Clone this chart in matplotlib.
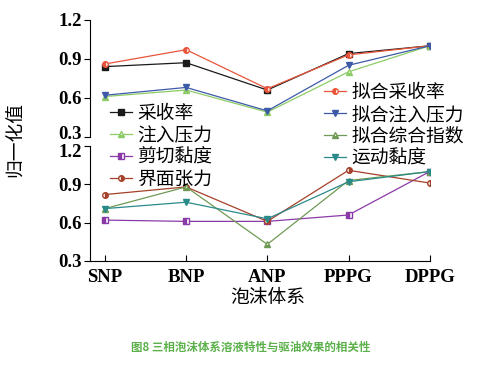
import matplotlib
matplotlib.use("Agg")
import matplotlib.pyplot as plt
import matplotlib.transforms as mtransforms

plt.rcParams['font.family'] = ['Noto Sans CJK SC', 'DejaVu Sans']

# 数据
systems = ["SNP", "BNP", "ANP", "PPPG", "DPPG"]

caishoulv = [0.84, 0.87, 0.66, 0.94, 1.00]          # 采收率
nihe_caishoulv = [0.86, 0.97, 0.67, 0.93, 1.00]     # 拟合采收率
zhuru_yali = [0.61, 0.66, 0.49, 0.80, 1.00]         # 注入压力
nihe_zhuru_yali = [0.62, 0.68, 0.50, 0.85, 1.00]    # 拟合注入压力

jianqie_niandu = [0.62, 0.61, 0.61, 0.66, 1.00]     # 剪切黏度
jiemian_zhangli = [0.82, 0.88, 0.61, 1.01, 0.91]    # 界面张力
nihe_zonghe = [0.71, 0.88, 0.43, 0.93, 1.00]        # 拟合综合指数
yundong_niandu = [0.71, 0.76, 0.63, 0.92, 1.00]     # 运动黏度

yticks = [0.3, 0.6, 0.9, 1.2]

serif = {'family': 'Liberation Serif', 'weight': 'bold', 'size': 13.5}

fig = plt.figure(figsize=(5.02, 3.66), dpi=100)
ax1 = fig.add_axes([0.179, 0.626, 0.677, 0.320])
ax2 = fig.add_axes([0.179, 0.287, 0.677, 0.314])

x = list(range(len(systems)))
ms = 4
lw = 0.9

l1, = ax1.plot(x, caishoulv, color='#1a1a1a', marker='s', ms=ms, lw=lw, label='采收率')
l2, = ax1.plot(x, nihe_caishoulv, color='#e8553a', marker='o', ms=ms, lw=lw,
               fillstyle='left', markerfacecoloralt='white', label='拟合采收率')
l3, = ax1.plot(x, zhuru_yali, color='#8ccc66', marker='^', ms=ms, lw=lw,
               fillstyle='bottom', markerfacecoloralt='white', label='注入压力')
l4, = ax1.plot(x, nihe_zhuru_yali, color='#3d5aa8', marker='v', ms=ms, lw=lw, label='拟合注入压力')

l5, = ax2.plot(x, jianqie_niandu, color='#8a3aa6', marker='s', ms=ms, lw=lw,
               fillstyle='left', markerfacecoloralt='white', label='剪切黏度')
l6, = ax2.plot(x, jiemian_zhangli, color='#a5402a', marker='o', ms=ms, lw=lw,
               fillstyle='right', markerfacecoloralt='white', label='界面张力')
l7, = ax2.plot(x, nihe_zonghe, color='#6f9a55', marker='^', ms=ms, lw=lw,
               fillstyle='bottom', markerfacecoloralt='white', label='拟合综合指数')
l8, = ax2.plot(x, yundong_niandu, color='#2a8a8a', marker='v', ms=ms, lw=lw, label='运动黏度')

for ax in (ax1, ax2):
    ax.set_xlim(-0.185, 4.0)
    ax.set_ylim(0.3, 1.2)
    ax.set_yticks(yticks)
    ax.set_yticklabels([f"{v:.1f}" for v in yticks], fontdict=serif)
    ax.spines['top'].set_visible(False)
    ax.spines['right'].set_visible(False)
    ax.tick_params(axis='y', direction='out', length=4, width=0.8, pad=2)
    ax.patch.set_alpha(0)

# 两个面板交界处的刻度标签稍微错开
up = mtransforms.ScaledTranslation(0, 3 / 72, fig.dpi_scale_trans)
down = mtransforms.ScaledTranslation(0, -3 / 72, fig.dpi_scale_trans)
lab = ax1.get_yticklabels()[0]
lab.set_transform(lab.get_transform() + up)
lab = ax2.get_yticklabels()[-1]
lab.set_transform(lab.get_transform() + down)

ax1.spines['bottom'].set_visible(False)
ax1.set_xticks([])
ax2.set_xticks(x)
ax2.set_xticklabels(systems, fontdict=serif)
ax2.tick_params(axis='x', direction='in', length=4, width=0.8, pad=6)

fig.text(0.534, 0.188, '泡沫体系', ha='center', va='center', fontsize=13.5)
fig.text(0.03, 0.62, '归一化值', ha='center', va='center', rotation=90, fontsize=13.5)
fig.text(0.5, 0.052, '图8 三相泡沫体系溶液特性与驱油效果的相关性', ha='center', va='center',
         fontsize=8.3, color='#5bb04a', fontweight='bold')

leg_kw = dict(frameon=False, fontsize=13.5, handlelength=1.2, handletextpad=0.25,
              labelspacing=0.05, borderpad=0, borderaxespad=0, loc='upper left')
fig.legend([l1, l3, l5, l6], ['采收率', '注入压力', '剪切黏度', '界面张力'],
           bbox_to_anchor=(110 / 502, 1 - 103 / 366), **leg_kw)
fig.legend([l2, l4, l7, l8], ['拟合采收率', '拟合注入压力', '拟合综合指数', '运动黏度'],
           bbox_to_anchor=(324 / 502, 1 - 82 / 366), **leg_kw)

fig.savefig('out.png', dpi=100)
